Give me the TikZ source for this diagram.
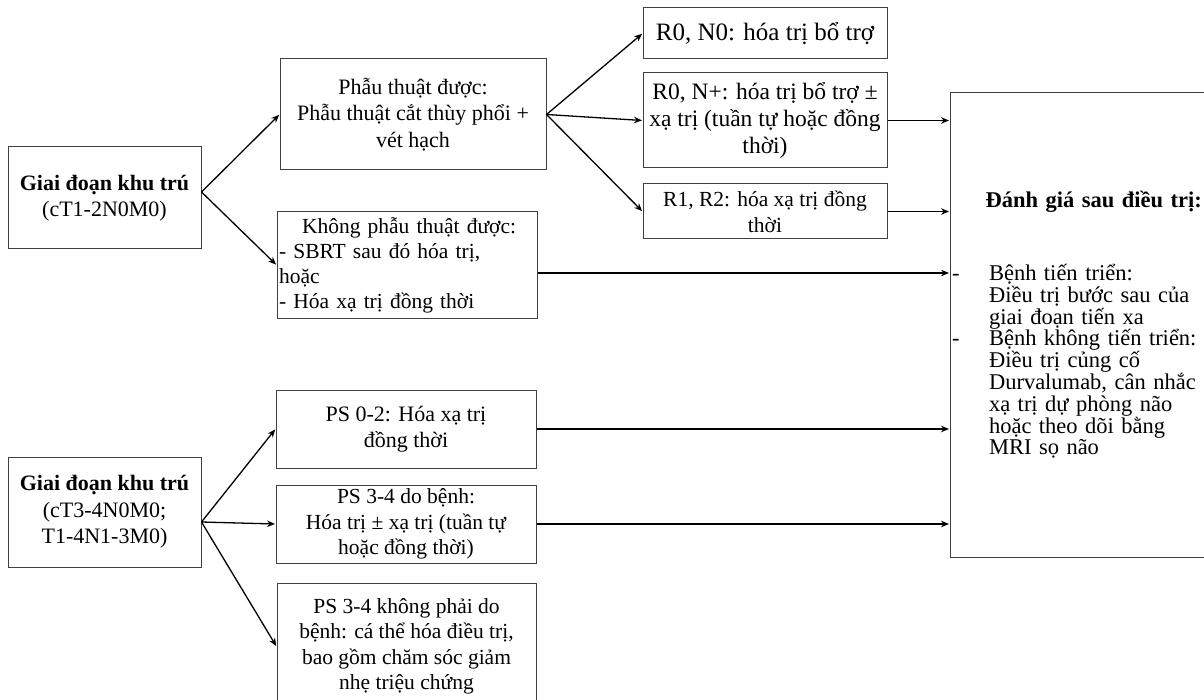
\documentclass[tikz,border=0pt]{standalone}
\usepackage{fontspec}
\setmainfont{Liberation Serif}
\usetikzlibrary{arrows.meta}

\begin{document}
\begin{tikzpicture}[->,>={Stealth[length=8pt,width=6.5pt]},shorten >=0.5pt,line width=1.3pt,x=1pt,y=-1pt]

  \tikzstyle{every node}=[font=\fontsize{22}{26.5}\selectfont,text=black]
  \tikzstyle{box}=[draw=black!75,line width=1pt,rectangle,inner sep=0pt,align=center]

  \useasboundingbox (0,0) rectangle (1204,700);

  \node[box,minimum width=193pt,minimum height=102pt] (a1) at (104.5,198) {\textbf{Giai đoạn khu trú}\\(cT1-2N0M0)};
  \node[box,minimum width=193pt,minimum height=110pt] (a2) at (104.5,512) {\textbf{Giai đoạn khu trú}\\(cT3-4N0M0;\\T1-4N1-3M0)};

  \node[box,minimum width=266pt,minimum height=111pt] (b1) at (413,114.5) {Phẫu thuật được:\\Phẫu thuật cắt thùy phổi +\\vét hạch};
  \node[box,minimum width=260pt,minimum height=107pt,text width=256pt,align=left,font=\fontsize{21.5}{25}\selectfont] (b2) at (407,265) {\hspace*{23pt}Không phẫu thuật được:\\- SBRT sau đó hóa trị,\\hoặc\\- Hóa xạ trị đồng thời};

  \node[box,minimum width=244pt,minimum height=51pt,font=\fontsize{25}{27}\selectfont] (c1) at (765,33.5) {R0, N0: hóa trị bổ trợ};
  \node[box,minimum width=244pt,minimum height=95pt,font=\fontsize{23.5}{27}\selectfont] (c2) at (765,120.5) {R0, N+: hóa trị bổ trợ ±\\xạ trị (tuần tự hoặc đồng\\thời)};
  \node[box,minimum width=244pt,minimum height=55pt,font=\fontsize{21.5}{26}\selectfont] (c3) at (765,211.5) {R1, R2: hóa xạ trị đồng\\thời};

  \node[box,minimum width=260pt,minimum height=78pt] (e1) at (406,429) {PS 0-2: Hóa xạ trị\\đồng thời};
  \node[box,minimum width=260pt,minimum height=78pt,font=\fontsize{21.5}{25.5}\selectfont] (e2) at (406,524) {PS 3-4 do bệnh:\\Hóa trị ± xạ trị (tuần tự\\hoặc đồng thời)};
  \node[box,minimum width=259pt,minimum height=127pt,font=\fontsize{21.5}{25.5}\selectfont] (e3) at (406.5,646.5) {PS 3-4 không phải do\\bệnh: cá thể hóa điều trị,\\bao gồm chăm sóc giảm\\nhẹ triệu chứng};

  \node[box,minimum width=260pt,minimum height=464pt,text width=256pt,align=left,font=\fontsize{22.5}{21.8}\selectfont] (d) at (1080,325) {%
    \vspace*{22pt}
    \hspace*{26pt}\textbf{Đánh giá sau điều trị:}\\[29pt]
    \makebox[37pt][l]{-}Bệnh tiến triển:\\
    \hspace*{37pt}Điều trị bước sau của\\
    \hspace*{37pt}giai đoạn tiến xa\\
    \makebox[37pt][l]{-}Bệnh không tiến triển:\\
    \hspace*{37pt}Điều trị củng cố\\
    \hspace*{37pt}Durvalumab, cân nhắc\\
    \hspace*{37pt}xạ trị dự phòng não\\
    \hspace*{37pt}hoặc theo dõi bằng\\
    \hspace*{37pt}MRI sọ não};

  \path ([yshift=6pt]a1.east) edge (b1.west)
                              edge (b2.west)
        (b1.east) edge (c1.west)
                  edge (c2.west)
                  edge (c3.west)
        (c2.east) edge (c2.east -| d.west)
        (c3.east) edge (c3.east -| d.west)
        ([yshift=-8pt]b2.east) edge ([yshift=-8pt]b2.east -| d.west)
        ([yshift=-10pt]a2.east) edge (e1.west)
                                edge (e2.west)
                                edge (e3.west)
        (e1.east) edge (e1.east -| d.west)
        (e2.east) edge (e2.east -| d.west);
\end{tikzpicture}
\end{document}
